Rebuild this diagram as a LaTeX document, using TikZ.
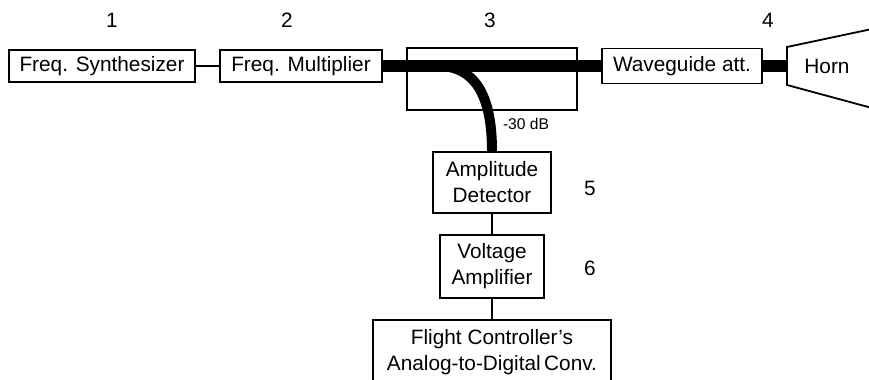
\documentclass[tikz,border=0pt]{standalone}
\usepackage{fontspec}
\setmainfont{Liberation Sans}
\usepackage{tikz}

\tikzset{
  blk/.style={draw, line width=0.9pt, fill=white, inner sep=0pt, align=center,
    font=\fontsize{10.4}{13}\selectfont},
  num/.style={font=\fontsize{10.4}{13}\selectfont},
  wg/.style={line width=6pt},
  thin/.style={line width=0.9pt}
}

\begin{document}
\begin{tikzpicture}[x=0.5pt,y=-0.5pt]
\useasboundingbox (0,0) rectangle (869,380);
\node[blk, minimum width=93pt, minimum height=16pt] (synth) at (102,66) {Freq. Synthesizer};
\node[blk, minimum width=81pt, minimum height=16pt] (mult) at (301,66) {Freq. Multiplier};
\node[blk, minimum width=85pt, minimum height=31pt] (coupler) at (492,79) {};
\node[blk, minimum width=80pt, minimum height=17.5pt] (att) at (682,66) {Waveguide att.};
\node[num] (horn) at (827,66) {Horn};
\node[blk, minimum width=59pt, minimum height=30.5pt] (det) at (492,182.5) {Amplitude\\Detector};
\node[blk, minimum width=52pt, minimum height=31.5pt] (amp) at (492,266.5) {Voltage\\Amplifier};
\node[blk, minimum width=119pt, minimum height=32pt, anchor=north] (adc) at (492,319) {Flight Controller's\\Analog-to-Digital\,Conv.};
\node[num] (n1) at (112,20) {1};
\node[num] (n2) at (287,20) {2};
\node[num] (n3) at (490,20) {3};
\node[num] (n4) at (768,20) {4};
\node[num] (n5) at (590,188) {5};
\node[num] (n6) at (590,268) {6};
\node[font=\fontsize{7.8}{9}\selectfont] (loss) at (526,124) {-30 dB};
\coordinate (tap) at (438,66);
\coordinate (throat) at (787,66);
% horn
\draw[thin] (872,29) -- (787,47) -- (787,85) -- (872,108);
% waveguide runs
\draw[wg] (mult.east) -- (att.west);
\draw[wg] (att.east) -- (throat);
\draw[line width=5pt] (tap) .. controls (474,66) and (492,94) .. (det.north);
% signal lines
\draw[thin] (synth) -- (mult);
\draw[thin] (det) -- (amp);
\draw[thin] (amp) -- (adc);
\end{tikzpicture}
\end{document}
